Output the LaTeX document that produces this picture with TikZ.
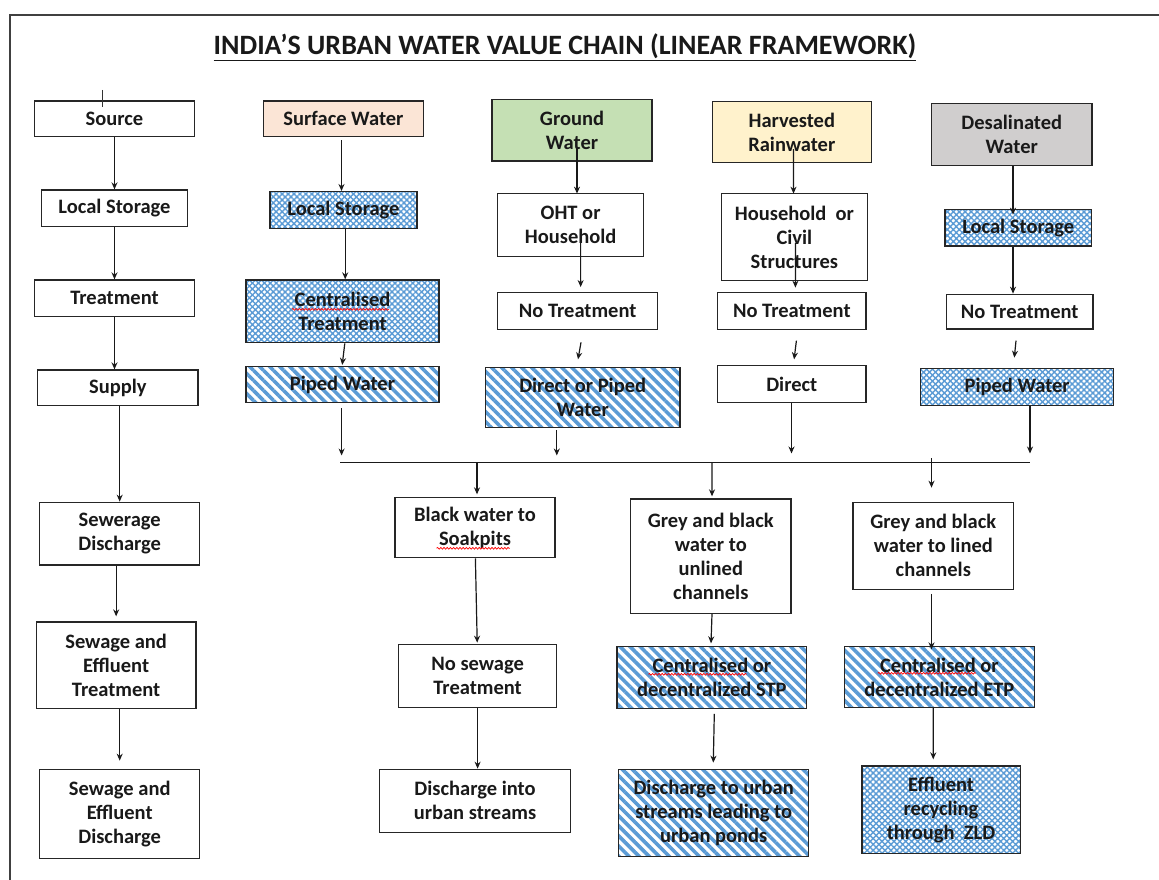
\documentclass[tikz,border=0pt]{standalone}
\usepackage{fontspec}
\setmainfont{Carlito}
\usetikzlibrary{arrows.meta,patterns.meta,decorations.pathmorphing}
\definecolor{pblue}{HTML}{5B9BD5}
\definecolor{peach}{HTML}{FBE5D6}
\definecolor{lgreen}{HTML}{C5E0B4}
\definecolor{lyellow}{HTML}{FFF2CC}
\definecolor{lgrey}{HTML}{D0CECE}
\begin{document}
\begin{tikzpicture}[x=1pt,y=-1pt,
  box/.style={draw=black!85, line width=1.3pt, inner sep=0pt, align=center,
    font=\bfseries\fontsize{20.5}{24}\selectfont, text=black!90},
  corners/.style n args={4}{minimum width={(#3-#1)*1pt}, minimum height={(#4-#2)*1pt},
    at={({(#1+#3)/2},{(#2+#4)/2})}},
  xh/.style={pattern={Hatch[distance=4.2pt, angle=45, line width=1.4pt]}, pattern color=pblue},
  stripes/.style={pattern={Lines[angle=-45, distance=7.1pt, line width=3.6pt]}, pattern color=pblue},
  arr/.style={-{Stealth[length=7pt,width=6pt]}, line width=1.2pt, draw=black!90},
  squig/.style={draw=red, line width=0.7pt, decorate, decoration={snake, amplitude=0.9pt, segment length=3.2pt}},
  frame/.style={draw=black!75, line width=1.4pt}
]
\useasboundingbox (0,0) rectangle (1159,880);
% frame
\coordinate (fb) at (10,880);
\coordinate (fc) at (10,15);
\coordinate (fr) at (1159,15);
\draw[frame] (fb) -- (fc) -- (fr);
% title
\node[font=\bfseries\fontsize{28}{32}\selectfont, text=black!90] (title) at (565,47)
  {\underline{INDIA’S URBAN WATER VALUE CHAIN (LINEAR FRAMEWORK)}};

% column 1
\node[box, corners={34.4}{101}{194.6}{136.7}] (src) {Source};
\node[box, corners={41.4}{190}{187.6}{226.7}] (ls1) {Local Storage};
\node[box, corners={34.4}{280}{194.6}{316.7}] (tr1) {Treatment};
\node[box, corners={37.7}{370}{198}{405.7}] (sup) {Supply};
\node[box, corners={39.6}{502.3}{199.8}{565}] (sewd) {Sewerage\\Discharge};
\node[box, corners={36.3}{622}{196}{708.7}] (set) {Sewage and\\Effluent\\Treatment};
\node[box, corners={39.6}{769.3}{199.8}{858.3}] (sed) {Sewage and\\Effluent\\Discharge};
\coordinate (tick) at (102.5,90);
\draw[line width=0.8pt, draw=black!80] (tick) -- ([yshift=-16.7pt]tick);

% column 2
\node[box, fill=peach, corners={263.4}{101}{423.6}{136.7}] (sw) {Surface Water};
\node[box, xh, corners={270}{191.7}{417}{228.7}] (ls2) {Local Storage};
\node[box, xh, corners={246}{280}{439}{342.7}] (ct) {Centralised\\Treatment};
\node[box, stripes, corners={246}{366.7}{439}{402.3}] (pw2) {Piped Water};

% column 3
\node[box, fill=lgreen, corners={492}{99.3}{652}{161}] (gw) {Ground\\Water};
\node[box, corners={497.6}{193.3}{643.6}{256.7}] (oht) {OHT or\\Household};
\node[box, corners={497.6}{292.7}{657.7}{329.3}] (nt3) {No Treatment};
\node[box, stripes, corners={485.4}{367.7}{680}{427.7}] (dpw) {Direct or Piped\\Water};

% column 4
\node[box, fill=lyellow, corners={712.4}{101.7}{871.2}{162.7}] (hr) {Harvested\\Rainwater};
\node[box, corners={721.3}{193.3}{867.5}{280.7}] (hcs) {Household~ or\\Civil\\Structures};
\node[box, corners={717.6}{292.3}{866}{329.3}] (nt4) {No Treatment};
\node[box, corners={717.6}{365.7}{866}{402.3}] (dir) {Direct};

% column 5
\node[box, fill=lgrey, corners={931.5}{103.3}{1092}{165.7}] (dw) {Desalinated\\Water};
\node[box, xh, corners={945}{209.3}{1091.5}{246}] (ls5) {Local Storage};
\node[box, corners={946.5}{294.3}{1093}{329}] (nt5) {No Treatment};
\node[box, xh, corners={920.5}{368.7}{1113.8}{405.7}] (pw5) {Piped Water};

% bottom
\node[box, corners={395}{497.3}{555}{557.7}] (bw) {Black water to\\Soakpits};
\node[box, corners={398.4}{644.3}{556.8}{707.3}] (nst) {No sewage\\Treatment};
\node[box, corners={379.2}{769.3}{570.8}{832.3}] (dus) {Discharge into\\urban streams};
\node[box, corners={630.7}{499}{790.9}{613.3}] (gbu) {Grey and black\\water to\\unlined\\channels};
\node[box, stripes, corners={617}{646.7}{806.8}{708.7}] (stp) {Centralised or\\decentralized STP};
\node[box, stripes, corners={618.8}{769.3}{808.6}{856.7}] (dup) {Discharge to urban\\streams leading to\\urban ponds};
\node[box, corners={853}{502.3}{1013.6}{589.3}] (gbl) {Grey and black\\water to lined\\channels};
\node[box, stripes, corners={844.5}{646.7}{1034.3}{707.3}] (etp) {Centralised or\\decentralized ETP};
\node[box, xh, corners={861.9}{766}{1020.2}{853.3}] (zld) {Effluent\\recycling\\through~ ZLD};

% spelling squiggles
\draw[squig] ([xshift=-50.5pt,yshift=2pt]ct.center) -- ([xshift=46.5pt,yshift=2pt]ct.center);
\draw[squig] ([xshift=-38.4pt,yshift=-20.8pt]bw.center) -- ([xshift=34.8pt,yshift=-20.8pt]bw.center);
\draw[squig] ([xshift=-63.5pt,yshift=3.4pt]stp.center) -- ([xshift=34.6pt,yshift=3.4pt]stp.center);
\draw[squig] ([xshift=-61.6pt,yshift=3.7pt]etp.center) -- ([xshift=36.5pt,yshift=3.7pt]etp.center);

% bus
\coordinate (busL) at (340,462.5);
\coordinate (busR) at (1030,462.5);
\draw[line width=1.4pt, draw=black!90] (busL) -- (busR);
\coordinate (b2) at (341.6,462.5);
\coordinate (b3) at (556.8,462.5);
\coordinate (b4) at (791.5,462.5);
\coordinate (b5) at (1030,462.5);
\coordinate (o1) at (477,462.5);
\coordinate (o2) at (712,462.5);
\coordinate (o3) at (931.5,458);

% column 1 connectors
\draw[arr] (src.south) -- (ls1.north);
\draw[arr] (ls1.south) -- (tr1.north);
\draw[arr] (tr1.south) -- (tr1.south |- sup.north);
\draw[arr] (sup.south -| sewd.north) -- (sewd.north);
\draw[arr, shorten >=5pt] (sewd.south -| set.north) -- (set.north);
\draw[arr, shorten >=8pt] (set.south -| sed.north) -- (sed.north);

% column 2 connectors
\draw[arr] ([xshift=-2pt,yshift=-3pt]sw.south) -- ([xshift=-2pt]ls2.north);
\draw[arr] ([xshift=1.7pt]ls2.south) -- ([xshift=2.7pt]ct.north);
\draw[arr] ([xshift=2.3pt]ct.south) -- ([xshift=-0.3pt]pw2.north);
\draw[arr] ([xshift=-0.9pt,yshift=-4pt]pw2.south) -- ([yshift=7pt]b2);

% column 3 connectors
\draw[arr] ([xshift=5pt,yshift=-18pt]gw.center) -- ([xshift=6.4pt,yshift=-1pt]oht.north);
\draw[arr] ([xshift=10pt,yshift=-16.7pt]oht.center) -- ([xshift=3pt,yshift=5pt]nt3.north);
\draw[arr] ([xshift=3.35pt,yshift=-12.4pt]nt3.south) -- ([xshift=-4.7pt,yshift=7.7pt]dpw.north);
\draw[arr] ([xshift=-25.9pt,yshift=-2pt]dpw.south) -- ([yshift=7pt]b3);

% column 4 connectors
\draw[arr] ([xshift=1.7pt,yshift=-17pt]hr.center) -- ([xshift=-0.9pt,yshift=-1pt]hcs.north);
\draw[arr] ([xshift=1pt,yshift=-6pt]hcs.center) -- ([xshift=3.6pt,yshift=4pt]nt4.north);
\draw[arr] ([xshift=4.6pt,yshift=-10.7pt]nt4.south) -- ([xshift=2.3pt,yshift=5.7pt]dir.north);
\draw[arr] ([xshift=-0.3pt]dir.south) -- ([yshift=9pt]b4);

% column 5 connectors
\draw[arr] ([xshift=1.25pt]dw.south) -- ([xshift=-5.25pt,yshift=-6pt]ls5.north);
\draw[arr] ([xshift=-5.25pt]ls5.south) -- ([xshift=-6.75pt]nt5.north);
\draw[arr] ([xshift=-3.75pt,yshift=-11pt]nt5.south) -- ([xshift=-2.85pt,yshift=10.4pt]pw5.north);
\draw[arr] ([xshift=12.85pt]pw5.south) -- ([yshift=9pt]b5);

% bus outputs
\draw[arr] (o1) -- ([xshift=2pt,yshift=2.3pt]bw.north);
\draw[arr] ([xshift=0.4pt]bw.south) -- ([xshift=-0.4pt,yshift=1pt]nst.north);
\draw[arr] (nst.south) -- (nst.south |- dus.north);
\draw[arr] (o2) -- ([xshift=1.2pt,yshift=2pt]gbu.north);
\draw[arr] ([xshift=1.2pt]gbu.south) -- ([xshift=-0.9pt,yshift=2.7pt]stp.north);
\draw[arr] ([xshift=2.4pt,yshift=-4.6pt]stp.south) -- ([xshift=-0.4pt,yshift=6pt]dup.north);
\draw[arr] (o3) -- ([xshift=-1.8pt,yshift=14pt]gbl.north);
\draw[arr] ([xshift=-1.8pt,yshift=-4pt]gbl.south) -- ([xshift=-7.9pt,yshift=-3.3pt]etp.north);
\draw[arr] ([xshift=-6.1pt]etp.south) -- ([xshift=-7.8pt,yshift=6pt]zld.north);
\end{tikzpicture}
\end{document}
